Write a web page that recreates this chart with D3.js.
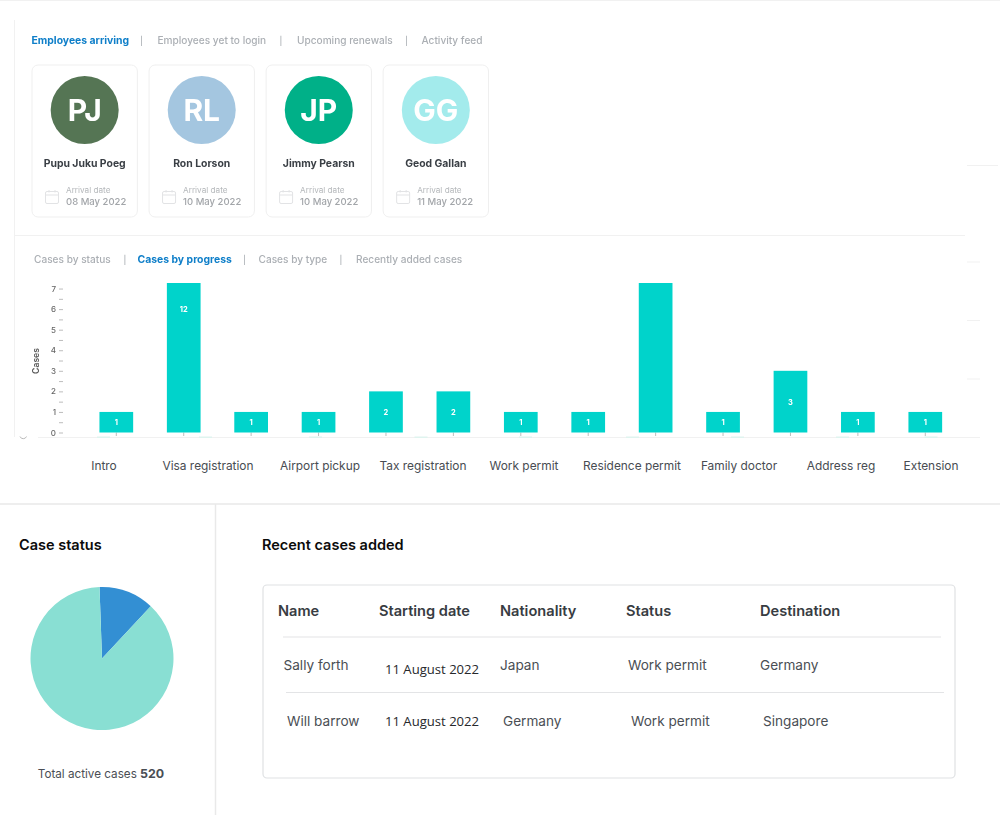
<!DOCTYPE html>
<html>
<head>
<meta charset="utf-8">
<script src="https://cdn.jsdelivr.net/npm/d3@7"></script>
<style>
    html, body { margin: 0; padding: 0; background: #fff; }
    svg { display: block; font-family: Inter, "Noto Sans", sans-serif; }
    .soft { filter: blur(0.4px); }
    .axis text { font-family: Inter, sans-serif; }
</style>
</head>
<body>
<svg id="page" width="1000" height="815"></svg>
<script>
    // Tabs above the cards and above the chart
    var topTabs = ["Employees arriving", "Employees yet to login", "Upcoming renewals", "Activity feed"];
    var chartTabs = ["Cases by status", "Cases by progress", "Cases by type", "Recently added cases"];

    // Employee cards
    var initials = ["PJ", "RL", "JP", "GG"];
    var names = ["Pupu Juku Poeg", "Ron Lorson", "Jimmy Pearsn", "Geod Gallan"];
    var arrivals = ["08 May 2022", "10 May 2022", "10 May 2022", "11 May 2022"];
    var avatarColors = ["#557554", "#a4c6e0", "#00b088", "#a3ebec"];

    // Bar chart: the two tall bars run off the top of the axis
    var barValues = [1, 12, 1, 1, 2, 2, 1, 1, 12, 1, 3, 1, 1];
    var barLabels = ["1", "12", "1", "1", "2", "2", "1", "1", "", "1", "3", "1", "1"];
    var stageLabels = ["Intro", "Visa registration", "Airport pickup", "Tax registration", "Work permit",
        "Residence permit", "Family doctor", "Address reg", "Extension"];
    var stageTextX = [104, 208, 320, 423, 524, 632, 739, 841, 931];
    var stageMarkX = [103.5, 205.5, 315.5, 421, 525.5, 632.5, 737.5, 842.5, 931];
    var yTicks = d3.range(0, 7.5, 0.5);

    // Pie
    var pieValues = [65, 455];
    var pieColors = ["#338fd3", "#89dfd3"];
    var totalCases = 520;

    // Table
    var tableHeaders = ["Name", "Starting date", "Nationality", "Status", "Destination"];
    var tableRow1 = ["Sally forth", "11 August 2022", "Japan", "Work permit", "Germany"];
    var tableRow2 = ["Will barrow", "11 August 2022", "Germany", "Work permit", "Singapore"];

    var svg = d3.select("#page");

    // Page rules
    var rules = [
        [0, 0.5, 1000, 0.5], [14.5, 20, 14.5, 437], [14, 235.5, 965, 235.5], [38, 437.5, 980, 437.5],
        [0, 504, 1000, 504], [215.5, 504, 215.5, 815], [967, 165.5, 998, 165.5],
        [967, 262, 980, 262], [967, 320.5, 980, 320.5], [967, 379, 980, 379]
    ];
    svg.append("g").selectAll("line").data(rules).join("line")
        .attr("x1", function (d) { return d[0]; })
        .attr("y1", function (d) { return d[1]; })
        .attr("x2", function (d) { return d[2]; })
        .attr("y2", function (d) { return d[3]; })
        .attr("stroke", function (d) { return d[1] === 504 ? "#e9e9e9" : "#f1f1f1"; })
        .attr("stroke-width", function (d) { return d[1] === 504 ? 1.5 : 1; });

    var soft = svg.append("g").attr("class", "soft");

    function drawTabs(parent, labels, active, y, xs, bars) {
        parent.append("g").selectAll("text").data(labels).join("text")
            .attr("x", function (d, i) { return xs[i]; })
            .attr("y", y)
            .attr("font-size", function (d, i) { return i === active ? 10.4 : 10.1; })
            .attr("font-weight", function (d, i) { return i === active ? 700 : 500; })
            .attr("fill", function (d, i) { return i === active ? "#0f7fc9" : "#abafb4"; })
            .text(function (d) { return d; });
        parent.append("g").selectAll("text").data(bars).join("text")
            .attr("x", function (d) { return d; })
            .attr("y", y)
            .attr("font-size", 8.5)
            .attr("fill", "#9aa0a6")
            .attr("text-anchor", "middle")
            .text("|");
    }
    drawTabs(soft, topTabs, 0, 44, [31.5, 157.5, 297, 421.5], [141.5, 281, 406.5]);
    drawTabs(soft, chartTabs, 1, 263, [34, 137.5, 258.5, 356], [125, 244.5, 341]);

    // Cards
    var cardX = d3.scaleBand().domain(d3.range(4)).range([32, 488.5]).paddingInner(0.1);
    var cards = soft.append("g").selectAll("g").data(names).join("g")
        .attr("transform", function (d, i) { return "translate(" + cardX(i) + ",65)"; });
    var cw = cardX.bandwidth();
    cards.append("rect")
        .attr("width", cw).attr("height", 152).attr("rx", 6)
        .attr("fill", "#fff").attr("stroke", "#efefef");
    cards.append("circle")
        .attr("cx", cw / 2).attr("cy", 45).attr("r", 34)
        .attr("fill", function (d, i) { return avatarColors[i]; });
    cards.append("text")
        .attr("x", cw / 2).attr("y", 56)
        .attr("text-anchor", "middle").attr("fill", "#fff")
        .attr("font-size", 30).attr("font-weight", 700)
        .text(function (d, i) { return initials[i]; });
    cards.append("text")
        .attr("x", cw / 2).attr("y", 101.5)
        .attr("text-anchor", "middle").attr("fill", "#3a3f45")
        .attr("font-size", 10.4).attr("font-weight", 700)
        .text(function (d) { return d; });
    // Calendar icon
    var cal = cards.append("g").attr("transform", "translate(13,125)")
        .attr("fill", "none").attr("stroke", "#e2e3e5").attr("stroke-width", 1);
    cal.append("rect").attr("x", 0.5).attr("y", 1.5).attr("width", 13).attr("height", 12).attr("rx", 1.5);
    cal.append("path").attr("d", "M0.5 5H13.5M4 0V2.5M10 0V2.5");
    cards.append("text")
        .attr("x", 34).attr("y", 127.5)
        .attr("fill", "#b5b8bb").attr("font-size", 8.2)
        .text("Arrival date");
    cards.append("text")
        .attr("x", 34).attr("y", 140)
        .attr("fill", "#a2a5a9").attr("font-size", 9.5).attr("font-weight", 500)
        .text(function (d, i) { return arrivals[i]; });

    // Bar chart
    var x = d3.scaleBand().domain(d3.range(barValues.length))
        .range([82.6, 959]).paddingInner(0.5).paddingOuter(0.25);
    var y = d3.scaleLinear().domain([0, 7.27]).range([432.5, 283]).clamp(true);

    soft.append("g").selectAll("rect").data(stageMarkX).join("rect")
        .attr("x", function (d) { return d - 6.5; })
        .attr("y", 436.5).attr("width", 13).attr("height", 1.5)
        .attr("fill", "#dff4ef");

    var yAxis = soft.append("g").attr("class", "axis")
        .attr("transform", "translate(63,0)")
        .call(d3.axisLeft(y).tickValues(yTicks).tickSize(4).tickPadding(3)
            .tickFormat(function (d) { return d % 1 === 0 ? d : ""; }));
    yAxis.select(".domain").remove();
    yAxis.selectAll("line").attr("stroke", "#bdbdbd");
    yAxis.selectAll("text").attr("font-size", 8).attr("font-weight", 500).attr("fill", "#666");

    var xAxis = soft.append("g").attr("class", "axis")
        .attr("transform", "translate(0,432.5)")
        .call(d3.axisBottom(x).tickSize(3.5).tickFormat(""));
    xAxis.select(".domain").remove();
    xAxis.selectAll("line").attr("stroke", "#bdbdbd");

    soft.append("g").selectAll("rect").data(barValues).join("rect")
        .attr("x", function (d, i) { return x(i); })
        .attr("y", function (d) { return y(d); })
        .attr("width", x.bandwidth())
        .attr("height", function (d) { return y(0) - y(d); })
        .attr("fill", "#00d3cb");

    soft.append("g").selectAll("text").data(barValues).join("text")
        .attr("x", function (d, i) { return x(i) + x.bandwidth() / 2; })
        .attr("y", function (d) { return y(d / 2) + 3; })
        .attr("text-anchor", "middle")
        .attr("fill", "#fff").attr("font-size", 7.5).attr("font-weight", 700)
        .text(function (d, i) { return barLabels[i]; });

    soft.append("text")
        .attr("transform", "translate(38.5,361) rotate(-90)")
        .attr("text-anchor", "middle")
        .attr("fill", "#555").attr("font-size", 8.6).attr("font-weight", 600)
        .text("Cases");

    soft.append("path")
        .attr("d", "M20 436.5A3.5 3.5 0 0 0 26.5 436.5")
        .attr("fill", "none").attr("stroke", "#b9b9b9");

    svg.append("g").selectAll("text").data(stageLabels).join("text")
        .attr("x", function (d, i) { return stageTextX[i]; })
        .attr("y", 470)
        .attr("text-anchor", "middle")
        .attr("fill", "#484c52").attr("font-size", 11.9)
        .text(function (d) { return d; });

    // Case status
    svg.append("text").attr("x", 19).attr("y", 550)
        .attr("font-size", 14.5).attr("font-weight", 600).attr("fill", "#0b0b0b")
        .text("Case status");

    var pieStart = -2 * Math.PI / 180;
    var pie = d3.pie().sort(null).startAngle(pieStart).endAngle(pieStart + 2 * Math.PI);
    var arc = d3.arc().innerRadius(0).outerRadius(71.5);
    svg.append("g").attr("transform", "translate(102,658.5)")
        .selectAll("path").data(pie(pieValues)).join("path")
        .attr("d", arc)
        .attr("fill", function (d, i) { return pieColors[i]; });

    var total = svg.append("text").attr("x", 101).attr("y", 778)
        .attr("text-anchor", "middle").attr("font-size", 11.7).attr("fill", "#4a4e54");
    total.append("tspan").text("Total active cases ");
    total.append("tspan").attr("font-weight", 700).attr("font-size", 12.4).text(totalCases);

    // Recent cases table
    svg.append("text").attr("x", 262).attr("y", 550)
        .attr("font-size", 14.5).attr("font-weight", 600).attr("fill", "#0b0b0b")
        .text("Recent cases added");
    svg.append("rect")
        .attr("x", 263).attr("y", 585).attr("width", 692).attr("height", 193).attr("rx", 4)
        .attr("fill", "#fff").attr("stroke", "#dfe1e3").attr("stroke-width", 1.2);

    var headerX = [278, 379, 500, 626, 760];
    var row1X = [283.5, 385, 500, 628, 760];
    var row1Y = [670, 674, 670, 670, 670];
    var row2X = [287, 385, 503, 631, 763];
    var row2Y = [726, 725.5, 726, 726, 726];

    svg.append("g").selectAll("text").data(tableHeaders).join("text")
        .attr("x", function (d, i) { return headerX[i]; })
        .attr("y", 615.5)
        .attr("font-size", 14.6).attr("font-weight", 600).attr("fill", "#383c42")
        .text(function (d) { return d; });

    function drawRow(cells, xs, ys) {
        svg.append("g").selectAll("text").data(cells).join("text")
            .attr("x", function (d, i) { return xs[i]; })
            .attr("y", function (d, i) { return ys[i]; })
            .attr("font-family", function (d, i) { return i === 1 ? "'Open Sans', sans-serif" : null; })
            .attr("font-size", function (d, i) { return i === 1 ? 13.1 : 13.6; })
            .attr("fill", function (d, i) { return i === 1 ? "#26282b" : "#4a4e54"; })
            .text(function (d) { return d; });
    }
    drawRow(tableRow1, row1X, row1Y);
    drawRow(tableRow2, row2X, row2Y);

    svg.append("line").attr("x1", 283).attr("x2", 941).attr("y1", 637).attr("y2", 637)
        .attr("stroke", "#e3e4e6").attr("stroke-width", 1.2);
    svg.append("line").attr("x1", 286).attr("x2", 944).attr("y1", 692.5).attr("y2", 692.5)
        .attr("stroke", "#e3e4e6").attr("stroke-width", 1.2);
</script>
</body>
</html>
